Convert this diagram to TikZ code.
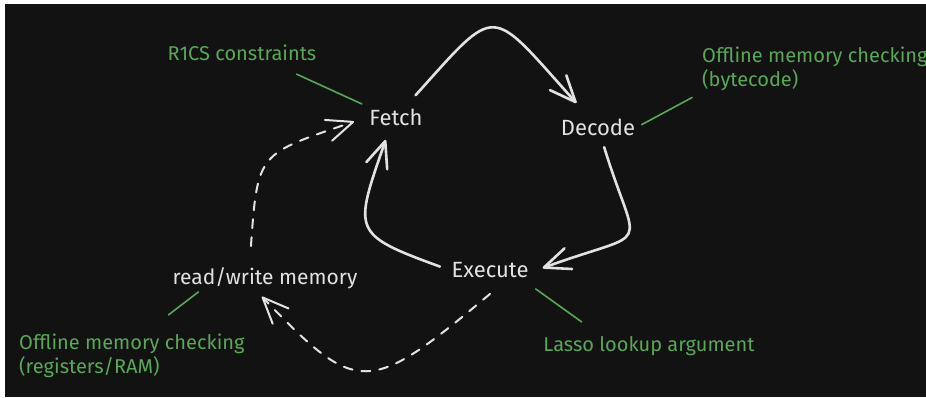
\documentclass[tikz,border=0pt]{standalone}
\usepackage{fontspec}
\setmainfont{Fira Sans}
\usetikzlibrary{arrows.meta}
\definecolor{board}{RGB}{18,18,18}
\definecolor{chalk}{RGB}{226,226,226}
\definecolor{notegreen}{RGB}{88,168,88}
\tikzset{
  stage/.style={text=chalk, inner sep=2pt, font=\fontsize{22}{26}\selectfont},
  remark/.style={text=notegreen, inner sep=2pt, align=left, font=\fontsize{20}{24}\selectfont},
  flow/.style={chalk, line width=2.6pt, line cap=round, line join=round, -{Straight Barb[length=26pt,width=22pt,round]}},
  maybeflow/.style={flow, line width=2pt, dash pattern=on 9pt off 9pt},
  link/.style={notegreen, line width=1.6pt, line cap=round}
}
\begin{document}
\begin{tikzpicture}[x=1pt,y=1pt]
\useasboundingbox (0,0) rectangle (926,397);
\fill[white] (0,0) rectangle (926,397);
\fill[board] (5,0) rectangle (926,393);

\node[stage] (fetch) at (396,280) {Fetch};
\node[stage] (decode) at (598,270) {Decode};
\node[stage] (execute) at (490,127) {Execute};
\node[stage, font=\fontsize{21}{25}\selectfont] (rw) at (265,119) {read/write memory};

\node[remark] (r1cs) at (242,344) {R1CS constraints};
\node[remark, anchor=north west] (bytecode) at (700,352) {Offline memory checking\\(bytecode)};
\node[remark, anchor=north west] (regs) at (17,65) {Offline memory checking\\(registers/RAM)};
\node[remark] (lasso) at (649,51) {Lasso lookup argument};

\draw[flow, shorten <=15pt, shorten >=18pt] (fetch.48) to[out=48, in=132, out distance=140pt, in distance=150pt] (decode.132);
\draw[flow, shorten <=10pt] (decode.-73) to[out=-73, in=20, out distance=125pt, in distance=120pt] ([xshift=12pt,yshift=2pt]execute.east);
\draw[flow, shorten <=10pt, shorten >=13pt] (execute.west) to[out=160, in=-109, out distance=105pt, in distance=110pt] (fetch.-120);
\draw[maybeflow, shorten >=8pt] ([yshift=-14pt]execute.south) to[out=220, in=-46, out distance=160pt, in distance=146pt] (rw.-124);
\draw[maybeflow, shorten <=19pt, shorten >=14pt] (rw.140) to[out=86, in=199, out distance=115pt, in distance=115pt] (fetch.west);

\draw[link, shorten >=6pt] (r1cs.south east) ++(-22,-11) -- (fetch.north west);
\draw[link, shorten <=5pt, shorten >=9pt] (decode.east) -- (bytecode.south west);
\draw[link] (rw.south west) ++(28,-1) -- ++(-30,-23);
\draw[link] (execute.south east) ++(5,-9) -- ++(46,-33);
\end{tikzpicture}
\end{document}
